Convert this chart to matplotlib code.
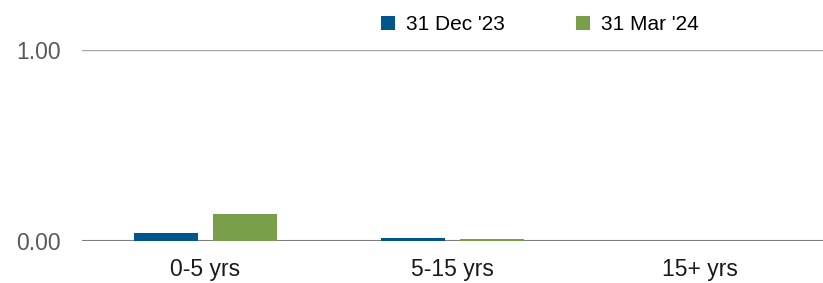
import matplotlib
matplotlib.use('Agg')
import matplotlib.pyplot as plt
import numpy as np

categories = ['0-5 yrs', '5-15 yrs', '15+ yrs']
dec_23 = [0.04, 0.015, 0.0]
mar_24 = [0.14, 0.012, 0.0]
series_names = ["31 Dec '23", "31 Mar '24"]

plt.rcParams['font.family'] = ['Liberation Sans', 'DejaVu Sans']

fig = plt.figure(figsize=(8.23, 2.83), dpi=100)
ax = fig.add_axes([82 / 823, 1 - 241 / 283, 741 / 823, 191 / 283])

x = np.arange(len(categories))
width = 0.26
ax.bar(x - 0.16, dec_23, width, color='#00558C', label=series_names[0], zorder=3)
ax.bar(x + 0.16, mar_24, width, color='#7A9F4A', label=series_names[1], zorder=3)

ax.set_xlim(-0.5, 2.5)
ax.set_ylim(0, 1)
ax.set_yticks([0, 1])
ax.set_yticklabels(['0.00', '1.00'])
ax.set_xticks(x)
ax.set_xticklabels(categories)

ax.axhline(1, color='#A6A6A6', lw=1, zorder=1)
ax.axhline(0, color='#7F7F7F', lw=1.5, zorder=2)

for s in ax.spines.values():
    s.set_visible(False)
ax.tick_params(axis='both', length=0, labelsize=16.5, colors='#595959')
ax.tick_params(axis='y', pad=15)
ax.tick_params(axis='x', pad=12)
for lbl in ax.get_xticklabels():
    lbl.set_color('#1a1a1a')

fig.legend(loc='center', bbox_to_anchor=(540 / 823, 1 - 25 / 283), ncol=2,
           frameon=False, fontsize=15, handlelength=0.65, handleheight=0.65,
           columnspacing=3.4, handletextpad=0.55)

fig.savefig('out.png', dpi=100)
